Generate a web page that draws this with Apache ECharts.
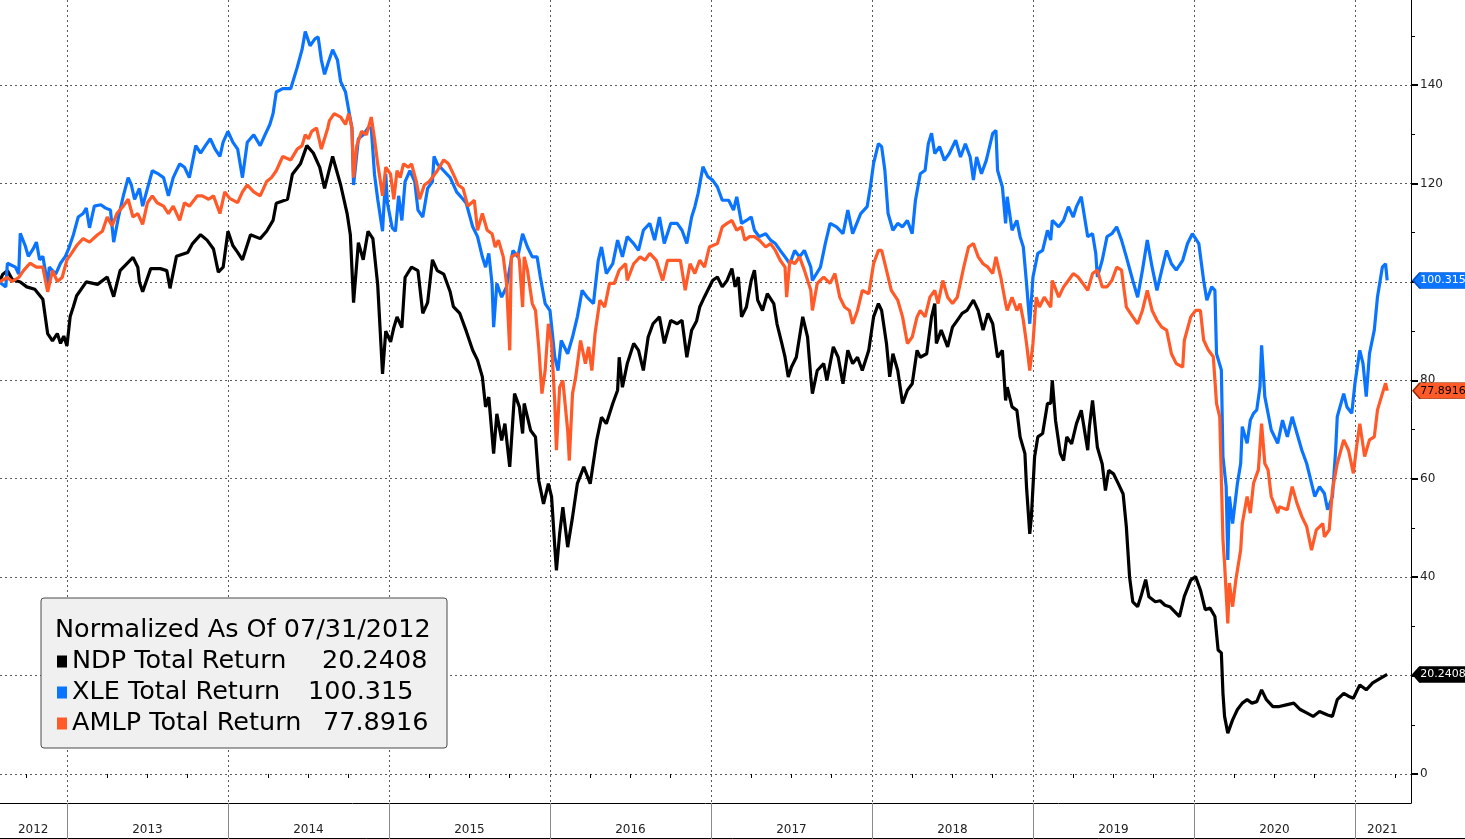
<!DOCTYPE html>
<html>
<head>
<meta charset="utf-8">
<title>NDP / XLE / AMLP Total Return</title>
<script src="https://cdn.jsdelivr.net/npm/echarts@6/dist/echarts.min.js"></script>
<style>
  html, body { margin: 0; padding: 0; background: #fff; }
  #chart { width: 1465px; height: 839px; }
</style>
</head>
<body>
<div id="chart"></div>
<script>
  // x = decimal year, y = total return normalized to 100 on 07/31/2012
  const ndp = [
    [2012.58,100],[2012.60,101.5],[2012.63,102.3],[2012.66,100.5],[2012.71,100],[2012.75,99],[2012.80,98.5],[2012.85,96.5],[2012.88,89.5],[2012.91,88],[2012.94,89.5],[2012.96,87.5],[2012.98,89],[2013.00,87],[2013.02,93],[2013.04,95],[2013.06,97.2],[2013.12,100],[2013.19,99.5],[2013.25,101],[2013.29,97],[2013.33,102.3],[2013.41,105],[2013.44,103],[2013.45,100],[2013.47,98],[2013.52,102.7],[2013.58,102.7],[2013.62,102.3],[2013.64,98.7],[2013.68,105.2],[2013.75,106],[2013.78,107.8],[2013.83,109.6],[2013.87,108.5],[2013.91,106.7],[2013.94,102],[2013.97,103],
    [2014.00,110.3],[2014.03,107.4],[2014.06,106],[2014.09,104.5],[2014.14,109.6],[2014.20,108.8],[2014.24,110.3],[2014.28,112.5],[2014.30,116],[2014.37,116.8],[2014.40,121.9],[2014.45,124],[2014.49,127.7],[2014.53,126.2],[2014.57,123.3],[2014.60,119],[2014.65,125.5],[2014.70,119.7],[2014.74,113.9],[2014.76,109.6],[2014.78,95.8],[2014.81,108],[2014.84,104.5],[2014.87,110.3],[2014.90,108.8],[2014.93,99.4],[2014.96,81.3],[2014.98,90],
    [2015.01,87.8],[2015.03,90.7],[2015.05,92.9],[2015.08,90.7],[2015.10,100.9],[2015.14,103],[2015.18,102.3],[2015.21,93.6],[2015.24,95.8],[2015.27,104.5],[2015.30,102.3],[2015.34,101.6],[2015.38,98],[2015.40,95],[2015.44,93.6],[2015.48,90],[2015.52,86.1],[2015.55,84.1],[2015.58,80.7],[2015.60,74.6],[2015.62,76.6],[2015.65,65.1],[2015.67,73.2],[2015.70,67.8],[2015.72,71.2],[2015.75,62.4],[2015.78,77.3],[2015.81,74.6],[2015.83,69.2],[2015.84,75.3],[2015.88,69.8],[2015.91,68.5],[2015.93,59.7],[2015.96,54.9],[2015.99,59],
    [2016.01,56.3],[2016.03,46.1],[2016.04,41.4],[2016.06,48.8],[2016.08,54.2],[2016.11,46.1],[2016.14,52.2],[2016.17,59],[2016.21,62.4],[2016.25,59],[2016.29,67.8],[2016.32,72.5],[2016.35,71.2],[2016.39,75.3],[2016.42,78],[2016.43,84.7],[2016.45,78.6],[2016.48,83.4],[2016.52,87.5],[2016.55,86.1],[2016.58,82],[2016.61,88.8],[2016.64,91.5],[2016.68,92.9],[2016.71,87.5],[2016.75,92.2],[2016.79,91.5],[2016.82,92.2],[2016.85,84.7],[2016.88,90.2],[2016.91,92],[2016.93,94.9],[2016.96,97],
    [2017.01,100.3],[2017.04,101],[2017.07,99],[2017.10,100.3],[2017.13,102.7],[2017.15,99],[2017.17,101],[2017.19,92.9],[2017.22,94.9],[2017.25,100.3],[2017.27,102.4],[2017.29,96.3],[2017.32,94.2],[2017.35,97.6],[2017.39,95.6],[2017.41,91.5],[2017.44,87.5],[2017.46,84.7],[2017.48,80.7],[2017.50,82.7],[2017.53,84.7],[2017.55,88.8],[2017.57,92.9],[2017.60,88.8],[2017.62,80.7],[2017.63,77.3],[2017.66,82],[2017.70,83.4],[2017.72,80],[2017.76,86.8],[2017.79,84.7],[2017.82,79.3],[2017.85,86.1],[2017.88,83.4],[2017.91,84.7],[2017.94,82],[2017.98,86.1],
    [2018.01,92.9],[2018.04,95.6],[2018.06,94.2],[2018.09,87.5],[2018.11,80.7],[2018.13,85.4],[2018.16,82],[2018.19,75.3],[2018.22,78],[2018.25,79.3],[2018.28,86.1],[2018.30,84.7],[2018.34,85.4],[2018.37,92.9],[2018.39,95.6],[2018.40,87.5],[2018.43,90.2],[2018.47,86.8],[2018.50,90.8],[2018.53,92.2],[2018.56,93.6],[2018.59,94.2],[2018.63,96.3],[2018.66,94.2],[2018.69,90.2],[2018.72,93.6],[2018.75,91.5],[2018.78,84.7],[2018.81,86.1],[2018.83,75.9],[2018.84,78.6],[2018.87,74.6],[2018.90,73.9],[2018.92,68.5],[2018.95,65.1],[2018.96,58.3],[2018.98,48.8],[2018.99,52.2],
    [2019.01,64.4],[2019.03,68.5],[2019.06,69.2],[2019.09,75.3],[2019.11,75.3],[2019.12,80],[2019.14,71.9],[2019.17,65.1],[2019.19,63.7],[2019.21,68.5],[2019.24,67.1],[2019.27,71.2],[2019.30,73.9],[2019.34,65.8],[2019.35,70.5],[2019.37,75.9],[2019.40,66.4],[2019.43,63],[2019.45,57.6],[2019.47,61.7],[2019.50,61],[2019.53,59],[2019.56,56.9],[2019.58,50.2],[2019.60,40],[2019.62,35],[2019.65,34],[2019.67,36],[2019.70,39.5],[2019.72,36],[2019.76,35],[2019.79,35.2],[2019.82,34.3],[2019.85,34],[2019.88,33],[2019.91,32],[2019.94,36.1],[2019.98,39.4],
    [2020.01,40.1],[2020.04,37.4],[2020.07,33.4],[2020.10,33.7],[2020.13,32],[2020.15,25.2],[2020.17,24.6],[2020.18,16.4],[2020.19,11.7],[2020.21,8.3],[2020.24,11],[2020.27,13.1],[2020.30,14.4],[2020.33,15.1],[2020.36,14.4],[2020.39,14.7],[2020.42,17.1],[2020.45,15.1],[2020.49,13.7],[2020.53,13.7],[2020.58,14.1],[2020.62,14.4],[2020.66,13.1],[2020.70,12.4],[2020.74,11.7],[2020.78,12.7],[2020.83,12],[2020.86,11.7],[2020.89,15.1],[2020.93,16.4],[2020.96,15.8],[2020.99,15.4],
    [2021.03,18.1],[2021.07,17.1],[2021.11,18.5],[2021.16,19.5],[2021.20,20.2408]
  ]

  const xle = [
    [2012.58,100],[2012.62,99],[2012.63,103.8],[2012.68,103],[2012.70,101.6],[2012.71,109.9],[2012.74,107.4],[2012.76,105.2],[2012.79,106.7],[2012.81,108.1],[2012.83,104.5],[2012.85,105.2],[2012.88,99.4],[2012.89,103],[2012.93,101.6],[2012.96,103.8],[2012.99,105.2],
    [2013.01,106.7],[2013.04,109.6],[2013.07,113.2],[2013.10,113.9],[2013.12,115],[2013.14,111],[2013.17,115.4],[2013.21,115.7],[2013.24,115],[2013.27,114.6],[2013.29,108.1],[2013.32,113.2],[2013.35,117.5],[2013.38,121.2],[2013.40,119.7],[2013.42,116.8],[2013.45,119],[2013.47,115.4],[2013.50,119],[2013.53,122.6],[2013.57,121.9],[2013.60,121.2],[2013.63,117.5],[2013.66,121.2],[2013.70,124],[2013.73,123.3],[2013.76,121.2],[2013.80,127.7],[2013.83,126.2],[2013.86,127.7],[2013.89,129.1],[2013.92,127],[2013.95,125.5],[2013.97,128.4],
    [2014.00,130.6],[2014.03,128.4],[2014.06,127],[2014.09,121.2],[2014.12,128.4],[2014.16,129.9],[2014.20,127.7],[2014.23,129.9],[2014.26,132],[2014.28,134.2],[2014.30,138.6],[2014.34,139.3],[2014.39,139.3],[2014.43,143.6],[2014.46,147.2],[2014.48,150.9],[2014.51,148],[2014.54,149.4],[2014.56,149.8],[2014.58,145.1],[2014.60,142.2],[2014.62,144.3],[2014.65,147.2],[2014.68,145.1],[2014.70,140.7],[2014.73,138.6],[2014.75,134.9],[2014.77,131.3],[2014.78,119.7],[2014.81,129.1],[2014.84,129.9],[2014.87,131.3],[2014.89,131.3],[2014.91,121.9],[2014.93,116.8],[2014.96,110.3],[2014.98,121.9],[2014.99,116.1],
    [2015.02,111],[2015.04,110.3],[2015.06,117.5],[2015.08,112.5],[2015.10,120.4],[2015.13,122.6],[2015.16,120.4],[2015.18,114.6],[2015.21,113.2],[2015.24,119],[2015.27,120.4],[2015.28,125.5],[2015.30,124],[2015.34,122.6],[2015.38,121.2],[2015.42,118.3],[2015.46,116.8],[2015.48,116],[2015.52,111.2],[2015.55,109.2],[2015.58,105.1],[2015.60,103],[2015.62,105.8],[2015.64,99.7],[2015.65,90.8],[2015.67,99.7],[2015.70,96.9],[2015.73,99],[2015.77,106.4],[2015.80,105.1],[2015.83,109.8],[2015.86,107.1],[2015.89,105.1],[2015.92,105.1],[2015.94,101],[2015.97,95.6],
    [2016.00,94.2],[2016.03,84.7],[2016.05,82],[2016.07,88.1],[2016.11,85.4],[2016.14,88.8],[2016.17,92.9],[2016.20,98.3],[2016.23,96.9],[2016.27,95.6],[2016.30,104.4],[2016.32,107.1],[2016.35,101.7],[2016.39,103.7],[2016.42,108.5],[2016.45,105.1],[2016.48,109.2],[2016.52,107.8],[2016.55,106.4],[2016.58,110.5],[2016.62,111.9],[2016.65,108.5],[2016.68,113.2],[2016.71,107.8],[2016.75,111.9],[2016.79,111.9],[2016.82,110.5],[2016.85,107.8],[2016.88,113.2],[2016.90,115.3],[2016.92,118],[2016.95,123.4],[2016.98,121.4],
    [2017.01,120.7],[2017.04,119.3],[2017.07,116.6],[2017.11,116.6],[2017.14,114.6],[2017.16,117.3],[2017.19,111.9],[2017.22,112.5],[2017.25,113.2],[2017.27,110.5],[2017.30,109.2],[2017.34,109.8],[2017.37,108.5],[2017.40,107.8],[2017.43,106.4],[2017.46,105.1],[2017.49,103.7],[2017.52,106.4],[2017.55,105.1],[2017.58,106.4],[2017.62,103],[2017.63,100.3],[2017.68,103],[2017.71,107.8],[2017.74,111.9],[2017.78,111.2],[2017.82,109.8],[2017.85,114.6],[2017.88,109.8],[2017.93,113.9],[2017.97,115.3],[2017.99,119.3],
    [2018.01,124.1],[2018.04,128.1],[2018.06,127.5],[2018.08,122.7],[2018.10,113.9],[2018.13,110.5],[2018.16,111.9],[2018.19,111.2],[2018.22,112.5],[2018.25,109.8],[2018.27,116.6],[2018.30,122],[2018.33,122.7],[2018.35,128.1],[2018.37,130.2],[2018.39,126.1],[2018.42,127.5],[2018.45,124.7],[2018.48,126.1],[2018.52,128.8],[2018.55,125.4],[2018.58,128.1],[2018.61,125.4],[2018.63,120.7],[2018.65,125.4],[2018.68,122],[2018.71,124.7],[2018.75,130.2],[2018.77,130.8],[2018.78,122.7],[2018.81,119.3],[2018.83,111.9],[2018.84,117.3],[2018.87,110.5],[2018.90,112.5],[2018.92,109.2],[2018.94,107.1],[2018.96,99.7],[2018.98,91.5],
    [2019.00,101],[2019.03,105.8],[2019.06,106.4],[2019.09,110.5],[2019.11,108.5],[2019.12,112.5],[2019.16,111.2],[2019.19,112.5],[2019.22,115.3],[2019.25,113.2],[2019.27,115.3],[2019.30,117.3],[2019.34,109.2],[2019.37,109.8],[2019.39,105.8],[2019.40,101],[2019.43,104.4],[2019.46,109.2],[2019.49,109.8],[2019.52,111.2],[2019.55,108.5],[2019.58,105.1],[2019.62,100.3],[2019.65,96.9],[2019.68,102.4],[2019.71,108.5],[2019.74,103],[2019.77,98.3],[2019.80,102.4],[2019.83,106.4],[2019.86,103.7],[2019.89,102.4],[2019.93,104.4],[2019.96,107.8],[2019.99,109.8],
    [2020.03,107.8],[2020.06,100.3],[2020.08,96.3],[2020.11,99],[2020.13,98.3],[2020.14,85.4],[2020.17,82.1],[2020.18,64.5],[2020.20,58.4],[2020.21,43.5],[2020.22,56.4],[2020.24,50.9],[2020.27,59.1],[2020.29,63.1],[2020.30,70.6],[2020.33,67.2],[2020.35,71.9],[2020.37,73.3],[2020.39,74],[2020.41,78.7],[2020.42,87.1],[2020.44,76.7],[2020.46,73.3],[2020.48,69.9],[2020.52,67.2],[2020.55,71.9],[2020.58,68.5],[2020.61,72.6],[2020.64,69.2],[2020.67,65.8],[2020.70,63.1],[2020.73,59.1],[2020.75,56.4],[2020.78,58.4],[2020.81,57],[2020.83,53.7],[2020.86,56.4],[2020.88,65.8],[2020.89,72.6],[2020.93,77.3],[2020.95,74.6],[2020.98,73.3],
    [2021.00,79.4],[2021.03,86.1],[2021.05,83.4],[2021.07,76.7],[2021.09,85.4],[2021.12,90.2],[2021.14,97],[2021.17,103],[2021.19,103.7],[2021.20,100.315]
  ]

  const amlp = [
    [2012.58,100],[2012.63,100.9],[2012.66,100.1],[2012.70,100.9],[2012.73,102.3],[2012.77,103.8],[2012.81,103],[2012.85,103],[2012.88,98],[2012.91,102.3],[2012.94,100.1],[2012.97,100.9],
    [2013.00,104.5],[2013.03,105.9],[2013.06,107.4],[2013.10,108.8],[2013.14,108.1],[2013.19,109.6],[2013.22,110.3],[2013.25,113.2],[2013.28,111.4],[2013.31,113.9],[2013.35,115.4],[2013.38,116.8],[2013.41,113.2],[2013.44,113.9],[2013.47,111.7],[2013.50,116.1],[2013.53,117.5],[2013.56,116.1],[2013.60,115.4],[2013.63,113.9],[2013.66,115.4],[2013.70,112.5],[2013.73,116.1],[2013.76,115.4],[2013.81,117.5],[2013.84,117.5],[2013.88,116.8],[2013.91,117.5],[2013.95,113.9],[2013.98,118.3],
    [2014.01,117],[2014.06,116.1],[2014.09,118.3],[2014.12,119.7],[2014.16,118.3],[2014.20,117.5],[2014.24,120.4],[2014.27,121.2],[2014.30,122.6],[2014.34,125.5],[2014.39,124.8],[2014.43,127],[2014.46,127.7],[2014.48,129.9],[2014.50,129.1],[2014.52,130.6],[2014.55,131.3],[2014.58,127],[2014.62,131.3],[2014.63,132.8],[2014.66,134.2],[2014.70,133.5],[2014.73,132],[2014.75,134.2],[2014.77,131.3],[2014.78,121.2],[2014.80,127.7],[2014.83,130.6],[2014.86,129.9],[2014.89,133.5],[2014.91,129.1],[2014.93,124],[2014.96,117.5],[2014.98,123.3],
    [2015.01,121.9],[2015.03,116.8],[2015.05,122.6],[2015.07,121.2],[2015.09,124],[2015.12,123.3],[2015.14,124],[2015.17,120.4],[2015.19,116.8],[2015.22,119.7],[2015.25,120.4],[2015.30,122.6],[2015.34,124.8],[2015.37,124],[2015.40,121.9],[2015.43,119.7],[2015.46,119],[2015.49,115.4],[2015.50,115.3],[2015.53,116.6],[2015.55,110.5],[2015.58,113.9],[2015.61,110.5],[2015.64,109.8],[2015.66,107.1],[2015.68,108.5],[2015.71,105.1],[2015.73,99.7],[2015.75,86.1],[2015.76,105.1],[2015.80,105.8],[2015.81,104.4],[2015.83,94.9],[2015.84,105.1],[2015.86,102.4],[2015.89,95.6],[2015.91,94.2],[2015.93,86.8],[2015.95,77.3],[2015.97,82],[2015.99,91.5],
    [2016.01,87.5],[2016.03,75.3],[2016.04,65.8],[2016.06,78.6],[2016.08,80],[2016.11,69.8],[2016.12,63.7],[2016.14,77.3],[2016.16,80.7],[2016.19,88.1],[2016.22,83.4],[2016.24,86.8],[2016.26,82],[2016.28,89.5],[2016.31,96.3],[2016.34,94.9],[2016.37,99.7],[2016.40,99.7],[2016.43,102.4],[2016.47,103.7],[2016.48,100.3],[2016.52,103.7],[2016.56,105.1],[2016.59,104.4],[2016.62,105.8],[2016.66,104.4],[2016.70,100.3],[2016.73,104.4],[2016.76,104.4],[2016.81,104.4],[2016.84,98.3],[2016.87,103.7],[2016.90,101.7],[2016.93,104.4],[2016.96,103],[2016.99,107.1],
    [2017.04,107.8],[2017.07,111.2],[2017.10,111.9],[2017.13,112.5],[2017.16,110.5],[2017.19,111.2],[2017.21,108.5],[2017.24,109.2],[2017.27,109.2],[2017.30,108.5],[2017.34,107.1],[2017.37,107.8],[2017.40,106.4],[2017.43,104.4],[2017.46,103],[2017.47,96.9],[2017.49,104.4],[2017.52,103.7],[2017.55,105.1],[2017.58,102.4],[2017.62,98.3],[2017.63,94.2],[2017.66,99.7],[2017.70,101],[2017.74,99.7],[2017.77,101.7],[2017.80,96.9],[2017.83,94.9],[2017.86,94.2],[2017.88,91.5],[2017.91,94.2],[2017.94,98.3],[2017.98,97.6],
    [2018.01,103.7],[2018.04,106.4],[2018.06,106.4],[2018.09,102.4],[2018.12,98.3],[2018.16,96.3],[2018.19,92.9],[2018.22,87.5],[2018.25,88.8],[2018.28,92.9],[2018.30,94.2],[2018.33,92.9],[2018.36,96.9],[2018.39,98.3],[2018.41,95.6],[2018.44,100.3],[2018.47,96.9],[2018.50,95.6],[2018.53,96.9],[2018.57,103],[2018.60,107.1],[2018.63,107.8],[2018.66,105.1],[2018.69,103.7],[2018.72,103],[2018.75,101.7],[2018.77,105.1],[2018.80,101],[2018.83,95.6],[2018.84,94.2],[2018.87,96.9],[2018.90,94.2],[2018.92,95.6],[2018.94,92.2],[2018.96,87.5],[2018.98,82],
    [2019.00,87.5],[2019.02,96.9],[2019.04,94.9],[2019.07,96.9],[2019.11,94.9],[2019.12,100.3],[2019.16,96.9],[2019.19,99],[2019.22,100.3],[2019.25,101.7],[2019.28,101],[2019.31,99.7],[2019.34,98.3],[2019.37,101.7],[2019.40,102.4],[2019.43,99],[2019.46,99],[2019.49,100.3],[2019.52,103],[2019.55,102.4],[2019.58,94.9],[2019.62,92.9],[2019.65,91.5],[2019.68,94.2],[2019.71,98.3],[2019.74,94.2],[2019.77,92.2],[2019.80,90.8],[2019.83,90.2],[2019.86,85.4],[2019.89,83.4],[2019.93,82.7],[2019.94,88.1],[2019.98,92.9],
    [2020.01,94.2],[2020.04,94.2],[2020.06,88.2],[2020.09,86.1],[2020.12,84.8],[2020.14,75.3],[2020.16,72.6],[2020.18,47.6],[2020.19,42.8],[2020.21,30.6],[2020.22,38.8],[2020.24,34],[2020.26,39.4],[2020.29,45.5],[2020.30,50.9],[2020.33,56.4],[2020.35,53],[2020.37,59.1],[2020.40,61.8],[2020.42,71.2],[2020.44,63.1],[2020.46,61.8],[2020.48,56.4],[2020.52,53],[2020.53,54.3],[2020.58,53.7],[2020.61,58.4],[2020.64,55],[2020.67,52.3],[2020.70,50.3],[2020.73,45.5],[2020.76,49.6],[2020.80,50.9],[2020.81,48.2],[2020.84,49.6],[2020.86,57.7],[2020.89,63.1],[2020.93,67.9],[2020.96,65.8],[2020.99,61.1],
    [2021.01,66.5],[2021.03,71.2],[2021.06,64.5],[2021.09,67.9],[2021.12,68.5],[2021.14,74],[2021.17,77.3],[2021.19,79.4],[2021.20,77.8916]
  ]

  const seriesNames = ['NDP Total Return', 'XLE Total Return', 'AMLP Total Return']
  const yearTicks = [2013, 2014, 2015, 2016, 2017, 2018, 2019, 2020, 2021]
  const yearLabelAt = [2012.79, 2013.5, 2014.5, 2015.5, 2016.5, 2017.5, 2018.5, 2019.5, 2020.5, 2021.17]
  const quarterTicks = [2012.75,
    2013.25, 2013.5, 2013.75, 2014.25, 2014.5, 2014.75, 2015.25, 2015.5, 2015.75,
    2016.25, 2016.5, 2016.75, 2017.25, 2017.5, 2017.75, 2018.25, 2018.5, 2018.75,
    2019.25, 2019.5, 2019.75, 2020.25, 2020.5, 2020.75, 2021.25]
  const yTicks = [0, 20, 40, 60, 80, 100, 120, 140]
  const yMinorTicks = [10, 30, 50, 70, 90, 110, 130, 150]

  const X_MIN = 2012.584
  const X_MAX = 2021.348
  const FONT = 'DejaVu Sans'

  const colors = ['#000000', '#0a74ff', '#ff5a28']
  const tagText = ['#ffffff', '#ffffff', '#000000']
  const tagBorder = ['#000000', '#0050c0', '#8a2a00']
  const allData = [ndp, xle, amlp]
  const lastVal = allData.map(d => d[d.length - 1][1])

  const chart = echarts.init(document.getElementById('chart'))

  function makeSeries(i) {
    return {
      name: seriesNames[i],
      type: 'line',
      data: allData[i],
      symbol: 'none',
      showSymbol: false,
      color: colors[i],
      lineStyle: {color: colors[i], width: 3.2},
      emphasis: {disabled: true},
      z: 2 + i,
      markPoint: {
        silent: true,
        animation: false,
        symbol: 'path://M0,8 L7,0 L64,0 L64,16 L7,16 Z',
        symbolSize: [64, 16],
        symbolOffset: [34, 0],
        symbolKeepAspect: false,
        itemStyle: {color: colors[i], borderColor: tagBorder[i], borderWidth: 1},
        label: {
          show: true,
          position: 'inside',
          offset: [-2, 0],
          formatter: String(lastVal[i]),
          color: tagText[i],
          fontFamily: FONT,
          fontSize: 11
        },
        data: [{coord: [X_MAX, lastVal[i]]}]
      }
    }
  }

  const legendRich = {
    n0: {width: 250, fontFamily: FONT, fontSize: 25.5, color: '#000', lineHeight: 31},
    n1: {width: 236, fontFamily: FONT, fontSize: 25.5, color: '#000', lineHeight: 31},
    n2: {width: 251, fontFamily: FONT, fontSize: 25.5, color: '#000', lineHeight: 31},
    v: {width: 114, fontFamily: FONT, fontSize: 25.5, color: '#000', lineHeight: 31}
  }

  const option = {
    animation: false,
    backgroundColor: '#ffffff',
    grid: {left: 0, right: 54, top: 0, bottom: 36},
    title: {
      text: 'Normalized As Of 07/31/2012',
      left: 55,
      top: 617,
      padding: 0,
      z: 10,
      textStyle: {fontFamily: FONT, fontSize: 25.5, fontWeight: 'normal', color: '#000'}
    },
    legend: {
      orient: 'vertical',
      left: 41,
      top: 598,
      padding: [48, 10, 9, 16],
      itemGap: 0,
      itemWidth: 10,
      itemHeight: 12,
      icon: 'rect',
      selectedMode: false,
      backgroundColor: '#f0f0f0',
      borderColor: '#4a4a4a',
      borderWidth: 1,
      borderRadius: 3,
      data: seriesNames,
      formatter: function (name) {
        const i = seriesNames.indexOf(name)
        return '{n' + i + '|' + name + '}{v|' + lastVal[i] + '}'
      },
      textStyle: {fontFamily: FONT, fontSize: 25.5, color: '#000', lineHeight: 31, rich: legendRich}
    },
    xAxis: [
      {
        type: 'value',
        min: X_MIN,
        max: X_MAX,
        position: 'bottom',
        axisLine: {show: true, onZero: false, lineStyle: {color: '#000', width: 1}},
        axisTick: {show: true, customValues: yearTicks, length: 36, lineStyle: {color: '#8a8a8a', width: 1}},
        splitLine: {show: true, lineStyle: {color: '#5a5a5a', width: 1, type: [2, 3]}},
        axisLabel: {
          customValues: yearLabelAt,
          formatter: v => String(Math.floor(v)),
          margin: 21,
          fontFamily: FONT,
          fontSize: 12,
          color: '#222'
        }
      },
      {
        type: 'value',
        min: X_MIN,
        max: X_MAX,
        position: 'bottom',
        axisLine: {show: false},
        axisTick: {show: true, customValues: quarterTicks, length: 4, lineStyle: {color: '#000'}},
        axisLabel: {show: false},
        splitLine: {show: false}
      }
    ],
    yAxis: [
      {
        type: 'value',
        min: -5.9,
        max: 157.3,
        position: 'right',
        axisLine: {show: true, onZero: false, lineStyle: {color: '#000', width: 1}},
        axisTick: {show: true, customValues: yTicks, length: 7, lineStyle: {color: '#000', width: 2}},
        splitLine: {show: true, lineStyle: {color: '#5a5a5a', width: 1, type: [2, 3]}},
        axisLabel: {customValues: yTicks, margin: 9, fontFamily: FONT, fontSize: 12, color: '#222'}
      },
      {
        type: 'value',
        min: -5.9,
        max: 157.3,
        position: 'right',
        axisLine: {show: false},
        axisTick: {show: true, customValues: yMinorTicks, length: 4, lineStyle: {color: '#000'}},
        axisLabel: {show: false},
        splitLine: {show: false}
      }
    ],
    graphic: [
      {type: 'line', shape: {x1: 0, y1: 838.5, x2: 1465, y2: 838.5}, style: {stroke: '#000', lineWidth: 1}}
    ],
    series: [makeSeries(0), makeSeries(1), makeSeries(2)]
  }

  chart.setOption(option)
</script>
</body>
</html>
